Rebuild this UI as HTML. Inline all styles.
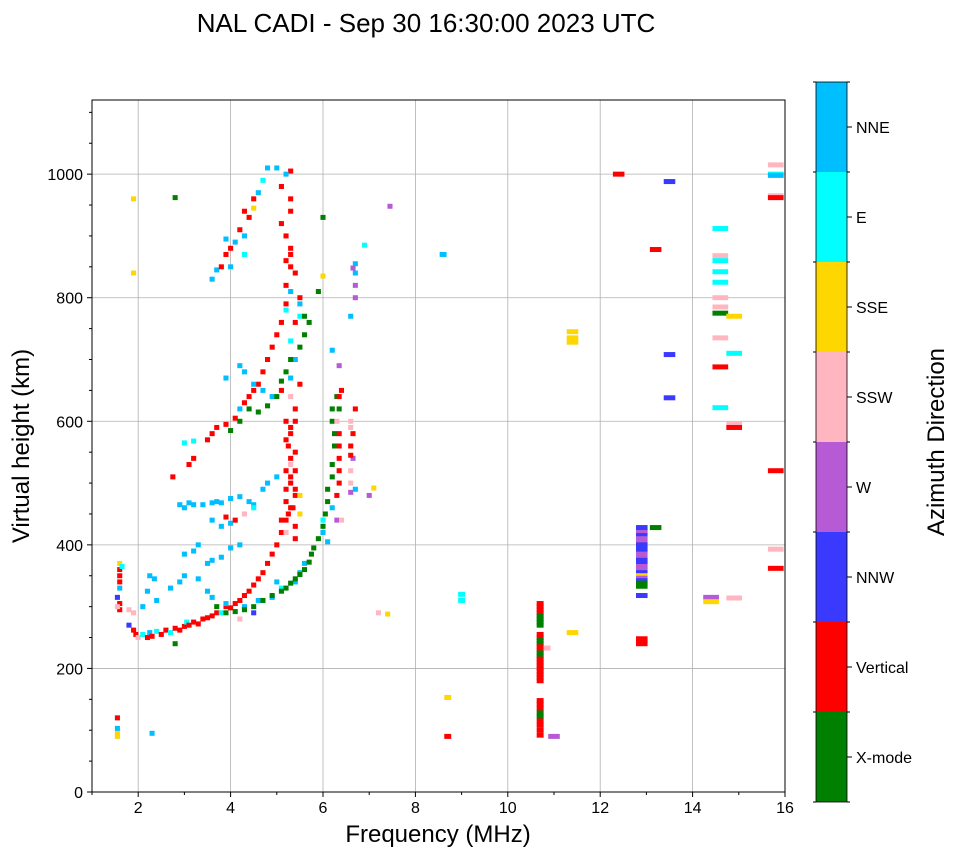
<!DOCTYPE html>
<html><head><meta charset="utf-8"><style>
body{margin:0;background:#fff}
svg{display:block;font-family:"Liberation Sans","DejaVu Sans",sans-serif}
</style></head><body>
<svg id="chart" width="958" height="857" viewBox="0 0 958 857" xmlns="http://www.w3.org/2000/svg">
<text x="426" y="32" font-size="26" text-anchor="middle">NAL CADI - Sep 30 16:30:00 2023 UTC</text>
<defs><clipPath id="pc"><rect x="92" y="100" width="693" height="692"/></clipPath></defs>
<g id="grid"></g>
<g id="marks" clip-path="url(#pc)"></g>
<rect x="92" y="100" width="693" height="692" fill="none" stroke="#000" stroke-width="1"/>
<g id="axes"></g>
<text x="438" y="842" font-size="24" text-anchor="middle">Frequency (MHz)</text>
<text transform="translate(29,446) rotate(-90)" font-size="24" text-anchor="middle">Virtual height (km)</text>
<g id="cbar"></g>
<text transform="translate(944,442) rotate(-90)" font-size="24" text-anchor="middle">Azimuth Direction</text>
</svg>
<script>
const directions=["X-mode","Vertical","NNW","W","SSW","SSE","E","NNE"];
const dirColors=["#008000","#ff0000","#3a3aff","#b65ad6","#ffb6c1","#ffd700","#00ffff","#00bfff"];
const xTicks=[2,4,6,8,10,12,14,16];
const yTicks=[0,200,400,600,800,1000];
// echoes: [frequency MHz, virtual height km, direction index]
const echoes=[
[1.55,120,1],[1.55,95,5],[1.55,90,5],[1.55,103,7],[2.3,95,7],
[1.6,370,5],[1.6,360,1],[1.6,350,1],[1.6,340,1],[1.6,330,7],[1.55,315,2],[1.6,305,1],[1.6,295,1],[1.65,365,6],[1.55,300,4],
[1.8,295,4],[1.8,270,2],[1.9,290,4],[1.9,262,1],[1.95,255,1],[2.0,250,4],[2.1,255,6],[2.2,250,1],[2.25,258,7],[2.3,252,1],[2.4,260,6],[2.5,255,1],[2.6,262,1],[2.7,258,6],[2.8,265,1],[2.9,262,1],[3.0,268,1],[3.05,275,6],[3.1,270,1],[3.2,275,1],[3.3,272,1],[3.4,280,1],[3.5,282,1],[3.6,285,1],[3.7,290,1],[3.8,290,6],[3.9,300,1],[4.0,298,1],[4.1,305,1],[4.2,310,1],[4.3,318,1],[4.4,325,1],[4.5,335,1],[4.6,345,1],[4.7,355,1],[4.8,370,1],[4.9,385,1],[5.0,400,1],[5.1,420,1],[5.2,440,1],[5.3,460,1],[5.4,490,1],
[2.25,350,7],[2.35,345,7],[2.2,325,7],[2.4,310,7],[2.1,300,7],[2.7,330,7],[2.9,340,7],[3.0,350,7],[3.3,345,7],[3.5,325,7],[3.6,315,7],[3.9,305,7],[4.3,300,7],[4.6,310,7],[4.9,315,7],[5.0,340,7],[5.1,330,6],[5.4,340,7],[5.5,355,7],[5.6,370,7],[4.2,280,4],[4.5,290,2],
[2.8,240,0],[3.7,300,0],[3.9,290,0],[4.1,292,0],[4.3,295,0],[4.5,300,0],[4.7,310,0],[4.9,318,0],[5.1,325,0],[5.2,330,0],[5.3,338,0],[5.4,345,0],[5.5,352,0],[5.6,360,0],[5.7,372,0],[5.75,385,0],[5.8,395,0],[5.9,410,0],[6.0,430,0],[6.05,450,0],[6.1,470,0],[6.1,490,0],[6.2,510,0],[6.2,530,0],[6.25,560,0],[6.25,580,0],[6.2,600,0],[6.2,620,0],[6.3,640,0],
[3.0,385,7],[3.2,390,7],[3.3,400,7],[3.5,370,7],[3.6,375,7],[3.8,380,7],[4.0,395,7],[4.2,400,7],[2.9,465,7],[3.0,460,7],[3.1,468,7],[3.2,465,7],[3.4,465,7],[3.6,468,7],[3.7,470,7],[3.8,468,7],[4.0,475,7],[4.2,478,7],[4.4,470,7],[4.5,465,7],[4.7,490,7],[4.8,500,7],[5.0,510,7],[3.6,440,7],[3.8,430,7],[4.0,435,7],[4.1,440,1],[3.9,445,1],[4.3,450,4],[4.5,460,6],
[2.75,510,1],[3.1,530,1],[3.2,540,1],[3.0,565,6],[3.2,568,6],[3.5,570,1],[3.6,580,1],[3.7,590,1],[3.9,595,1],[4.1,605,1],[4.2,620,7],[4.3,630,1],[4.4,640,1],[4.5,650,1],[4.6,660,1],[4.7,680,1],[4.8,700,1],[4.9,720,1],[5.0,740,1],[5.1,760,1],[5.2,790,1],[5.2,820,1],[5.3,850,1],[5.3,880,1],[5.2,900,1],[5.3,940,1],[5.3,1005,1],[5.2,1000,7],[5.1,980,1],[5.0,1010,7],
[3.9,670,7],[4.2,690,7],[4.3,680,7],[4.5,660,7],[4.7,650,7],[4.9,640,7],[5.1,650,1],[5.3,670,7],[5.4,700,7],[5.3,730,6],[5.5,770,6],[5.5,790,7],[5.2,780,6],[5.3,810,7],
[4.0,585,0],[4.2,600,0],[4.4,620,0],[4.6,615,0],[4.8,625,0],[5.0,640,0],[5.1,665,0],[5.2,680,0],[5.3,700,0],[5.5,720,0],[5.6,740,0],[5.7,760,0],[5.6,770,0],
[3.6,830,7],[3.7,845,7],[3.8,850,1],[3.9,870,1],[4.0,880,1],[4.1,890,7],[4.2,910,1],[4.3,940,1],[4.4,930,1],[4.5,960,1],[4.3,900,7],[3.9,895,7],[4.8,1010,7],[4.7,990,6],[4.5,945,5],[4.6,970,7],[4.0,850,7],[4.3,870,6],
[5.2,600,1],[5.3,580,1],[5.25,560,1],[5.3,540,1],[5.4,520,1],[5.2,520,1],[5.3,500,1],[5.4,480,1],[5.2,470,1],[5.35,460,1],[5.4,430,1],[5.1,440,1],[5.2,420,4],[5.5,450,5],[5.5,480,5],[5.4,620,1],[5.3,640,4],[5.5,660,1],[5.4,760,1],[5.5,800,1],[5.4,840,1],[5.2,860,1],[5.3,870,1],[5.1,920,1],[5.3,960,1],
[5.3,510,1],[5.2,490,1],[5.4,550,1],[5.3,590,1],[5.25,450,1],[5.4,410,1],[5.3,530,4],[5.2,570,1],[5.4,600,1],
[6.1,405,7],[6.0,420,7],[6.0,440,6],[6.2,460,7],[6.3,440,3],[6.4,440,4],[6.3,480,1],[6.35,520,1],[6.35,560,1],[6.3,600,4],[6.35,640,1],[6.4,650,1],[6.35,690,3],[6.2,715,7],[6.6,485,3],[6.7,490,7],[6.6,500,4],[6.6,520,4],[6.65,540,3],[6.6,560,1],[6.65,580,1],[6.6,600,4],[6.7,620,1],[6.6,770,7],[6.7,800,3],[6.7,820,3],[6.7,840,7],[6.7,855,7],[6.65,848,3],[6.9,885,6],[6.0,930,0],[6.0,835,5],[5.9,810,0],[7.0,480,3],[7.1,492,5],[7.2,290,4],[7.4,288,5],[7.45,948,3],
[6.35,500,1],[6.35,540,1],[6.35,580,1],[6.35,620,0],[6.6,545,1],[6.6,590,4],
[1.9,960,5],[1.9,840,5],[2.8,962,0],[8.6,870,7],[8.7,153,5],[8.7,90,1],[9.0,320,6],[9.0,310,6],
[10.7,305,1],[10.7,300,1],[10.7,295,1],[10.7,290,1],[10.7,285,0],[10.7,280,0],[10.7,275,0],[10.7,270,0],[10.7,255,1],[10.7,250,1],[10.7,245,0],[10.7,240,0],[10.7,235,1],[10.7,230,1],[10.7,225,0],[10.7,220,0],[10.7,215,1],[10.7,210,1],[10.7,205,1],[10.7,200,1],[10.7,195,1],[10.7,190,1],[10.7,185,1],[10.7,180,1],[10.7,148,1],[10.7,142,1],[10.7,135,1],[10.7,128,0],[10.7,122,0],[10.7,115,1],[10.7,108,1],[10.7,100,1],[10.7,92,1],[10.85,233,4],[11.0,90,3],
[11.4,745,5],[11.4,735,5],[11.4,728,5],[11.4,258,5],[12.4,1000,1],
[12.9,428,2],[12.9,424,2],[12.9,420,3],[12.9,415,2],[12.9,410,3],[12.9,405,3],[12.9,400,2],[12.9,395,2],[12.9,390,2],[12.9,385,3],[12.9,380,3],[12.9,375,2],[12.9,370,2],[12.9,365,3],[12.9,360,3],[12.9,355,2],[12.9,350,5],[12.9,346,3],[12.9,342,2],[12.9,338,0],[12.9,333,0],[12.9,318,2],[13.2,428,0],[12.9,248,1],[12.9,244,1],[12.9,240,1],[13.2,878,1],[13.5,988,2],[13.5,708,2],[13.5,638,2],
[14.4,315,3],[14.4,308,5],
[14.6,912,6],[14.6,868,4],[14.6,860,6],[14.6,842,6],[14.6,825,6],[14.6,800,4],[14.6,785,4],[14.6,775,0],[14.6,735,4],[14.6,688,1],[14.6,622,6],[14.9,770,5],[14.9,710,6],[14.9,595,4],[14.9,590,1],[14.9,314,4],
[15.8,1015,4],[15.8,1000,6],[15.8,998,7],[15.8,965,4],[15.8,962,1],[15.8,520,1],[15.8,393,4],[15.8,362,1]
];
const NS="http://www.w3.org/2000/svg";
const X0=92,X1=785,Y0=792,YT=100,FMIN=1,FMAX=16,HMAX=1120;
function xs(f){return X0+(f-FMIN)/(FMAX-FMIN)*(X1-X0);}
function ys(h){return Y0-h/HMAX*(Y0-YT);}
function mk(tag,attrs,parent){const e=document.createElementNS(NS,tag);for(const k in attrs)e.setAttribute(k,attrs[k]);parent.appendChild(e);return e;}
const grid=document.getElementById('grid'),axes=document.getElementById('axes'),marks=document.getElementById('marks'),cbar=document.getElementById('cbar');
xTicks.forEach(t=>{const x=xs(t);
 if(t<FMAX){const g=mk('line',{x1:x,x2:x,y1:YT,y2:Y0,stroke:'#b0b0b0','stroke-width':0.8},grid);
 
 }
 mk('line',{x1:x,x2:x,y1:Y0,y2:Y0+5,stroke:'#000'},axes);
 const l=mk('text',{x:x,y:Y0+21,'font-size':16,'text-anchor':'middle'},axes);l.textContent=t;
 
 });
for(let t=1;t<16;t+=2){mk('line',{x1:xs(t),x2:xs(t),y1:Y0,y2:Y0+3,stroke:'#000'},axes);}
yTicks.forEach(t=>{const y=ys(t);
 if(t>0){const g=mk('line',{x1:X0,x2:X1,y1:y,y2:y,stroke:'#b0b0b0','stroke-width':0.8},grid);
 
 }
 mk('line',{x1:X0-5,x2:X0,y1:y,y2:y,stroke:'#000'},axes);
 const l=mk('text',{x:X0-9,y:y+6,'font-size':16,'text-anchor':'end'},axes);l.textContent=t;
 
 });
for(let t=50;t<HMAX;t+=50){if(t%200)mk('line',{x1:X0-3,x2:X0,y1:ys(t),y2:ys(t),stroke:'#000'},axes);}
function wid(f){return f<8?0.11:f<11?0.15:f<14?0.25:0.34;}
echoes.forEach(p=>{const w=wid(p[0]);
 const r=mk('rect',{x:xs(p[0]-w/2),y:ys(p[1])-2.5,width:xs(p[0]+w/2)-xs(p[0]-w/2),height:5,fill:dirColors[p[2]]},marks);
 
 });
const CX=816,CW=31,CT=82,CB=802,seg=(CB-CT)/directions.length;
directions.forEach((d,i)=>{const y=CB-(i+1)*seg;
 const r=mk('rect',{x:CX,y:y,width:CW,height:seg,fill:dirColors[i]},cbar);
 
 
 mk('line',{x1:CX+CW,x2:CX+CW+5,y1:y+seg/2,y2:y+seg/2,stroke:'#000'},cbar);
 const l=mk('text',{x:CX+CW+9,y:y+seg/2+6,'font-size':16},cbar);l.textContent=d;
 
 });
for(let i=0;i<=directions.length;i++){const y=CB-i*seg;mk('line',{x1:CX+CW,x2:CX+CW+3,y1:y,y2:y,stroke:'#000'},cbar);mk('line',{x1:CX-3,x2:CX,y1:y,y2:y,stroke:'#000'},cbar);}
mk('rect',{x:CX,y:CT,width:CW,height:CB-CT,fill:'none',stroke:'#000','stroke-width':0.8},cbar);
</script>
</body></html>
